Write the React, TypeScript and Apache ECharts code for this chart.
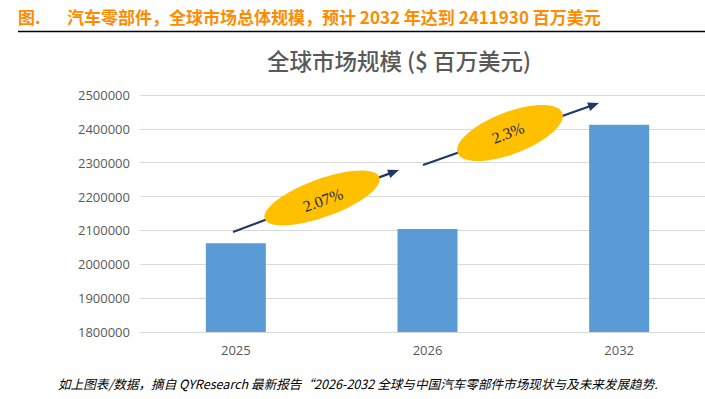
import React, { useEffect, useRef } from "react";
import * as echarts from "echarts";

const categories = ["2025", "2026", "2032"];
const marketSize = [2062000, 2104000, 2411930];
const growthLabels = ["2.07%", "2.3%"];
const yMin = 1800000;
const yMax = 2500000;
const yStep = 100000;

const headerLabel = "图.";
const headerText = "汽车零部件，全球市场总体规模，预计 2032 年达到 2411930 百万美元";
const chartTitle = "全球市场规模 ($ 百万美元)";
const footnote =
  "如上图表/数据，摘自 QYResearch 最新报告“2026-2032 全球与中国汽车零部件市场现状与及未来发展趋势.";

const CJK = '"Noto Sans CJK SC", "Noto Sans", sans-serif';
const AXISF = '"Open Sans", "Liberation Sans", sans-serif';

function arrow(x1: number, y1: number, x2: number, y2: number) {
  const dx = x2 - x1;
  const dy = y2 - y1;
  const len = Math.sqrt(dx * dx + dy * dy);
  const ux = dx / len;
  const uy = dy / len;
  const hl = 11;
  const hw = 4.5;
  const bx = x2 - ux * hl;
  const by = y2 - uy * hl;
  return [
    {
      type: "line",
      shape: { x1, y1, x2: bx + ux * 2, y2: by + uy * 2 },
      style: { stroke: "#1F3864", lineWidth: 2.2 },
      z: 10,
    },
    {
      type: "polygon",
      shape: {
        points: [
          [x2, y2],
          [bx - uy * hw, by + ux * hw],
          [bx + uy * hw, by - ux * hw],
        ],
      },
      style: { fill: "#1F3864" },
      z: 10,
    },
  ];
}

function bubble(cx: number, cy: number, a: number, b: number, deg: number, label: string, tx: number, ty: number) {
  const rot = (deg * Math.PI) / 180;
  return [
    {
      type: "ellipse",
      x: cx,
      y: cy,
      rotation: rot,
      shape: { cx: 0, cy: 0, rx: a, ry: b },
      style: { fill: "#FFC000" },
      z: 11,
    },
    {
      type: "text",
      x: tx,
      y: ty,
      rotation: rot,
      style: {
        text: label,
        fill: "#1F2A44",
        font: '16px "Liberation Serif", serif',
        align: "center",
        verticalAlign: "middle",
      },
      z: 12,
    },
  ];
}

export default function App() {
  const ref = useRef<HTMLDivElement>(null);
  useEffect(() => {
    if (!ref.current) return;
    const chart = echarts.init(ref.current, null, { renderer: "svg" });
    chart.setOption({
      animation: false,
      backgroundColor: "#ffffff",
      grid: {
        left: 140,
        top: 95,
        bottom: 67,
        width: 575,
        outerBoundsMode: "none",
        containLabel: false,
      },
      xAxis: {
        type: "category",
        data: categories,
        axisLine: { lineStyle: { color: "#D9D9D9", width: 1 } },
        axisTick: { show: false },
        axisLabel: { color: "#595959", fontSize: 13, fontFamily: AXISF, margin: 11 },
      },
      yAxis: {
        type: "value",
        min: yMin,
        max: yMax,
        interval: yStep,
        axisLine: { show: false },
        axisTick: { show: false },
        splitLine: { lineStyle: { color: "#D9D9D9", width: 1 } },
        axisLabel: {
          color: "#595959",
          fontSize: 13,
          fontFamily: AXISF,
          margin: 10,
          formatter: (v: number) => String(v),
        },
      },
      series: [
        {
          type: "bar",
          data: marketSize,
          barWidth: 60,
          itemStyle: { color: "#5B9BD5" },
          z: 2,
        },
      ],
      graphic: [
        {
          type: "text",
          x: 18,
          y: 16,
          style: {
            text: headerLabel,
            fill: "#FF8C00",
            font: `bold 17px ${CJK}`,
            verticalAlign: "middle",
          },
        },
        {
          type: "text",
          x: 67,
          y: 16,
          style: {
            text: headerText,
            fill: "#FF8C00",
            font: `bold 17px ${CJK}`,
            verticalAlign: "middle",
          },
        },
        {
          type: "line",
          shape: { x1: 18, y1: 31.5, x2: 705, y2: 31.5 },
          style: { stroke: "#000000", lineWidth: 1.5 },
        },
        {
          type: "text",
          x: 399,
          y: 60,
          style: {
            text: chartTitle,
            fill: "#595959",
            font: `500 22.5px ${CJK}`,
            align: "center",
            verticalAlign: "middle",
          },
        },
        ...arrow(233, 232, 399, 170),
        ...arrow(423, 165, 599, 103),
        ...bubble(322, 198, 61, 19, 20, growthLabels[0], 323, 200),
        ...bubble(510, 133, 56, 21, 21, growthLabels[1], 508, 133),
        {
          type: "text",
          x: 58,
          y: 383,
          style: {
            text: footnote,
            fill: "#000000",
            font: `italic 12.6px ${CJK}`,
            verticalAlign: "middle",
          },
        },
      ],
    });
    return () => chart.dispose();
  }, []);
  return (
    <div
      ref={ref}
      style={{ position: "fixed", left: 0, top: 0, width: 705, height: 399, background: "#fff" }}
    />
  );
}
